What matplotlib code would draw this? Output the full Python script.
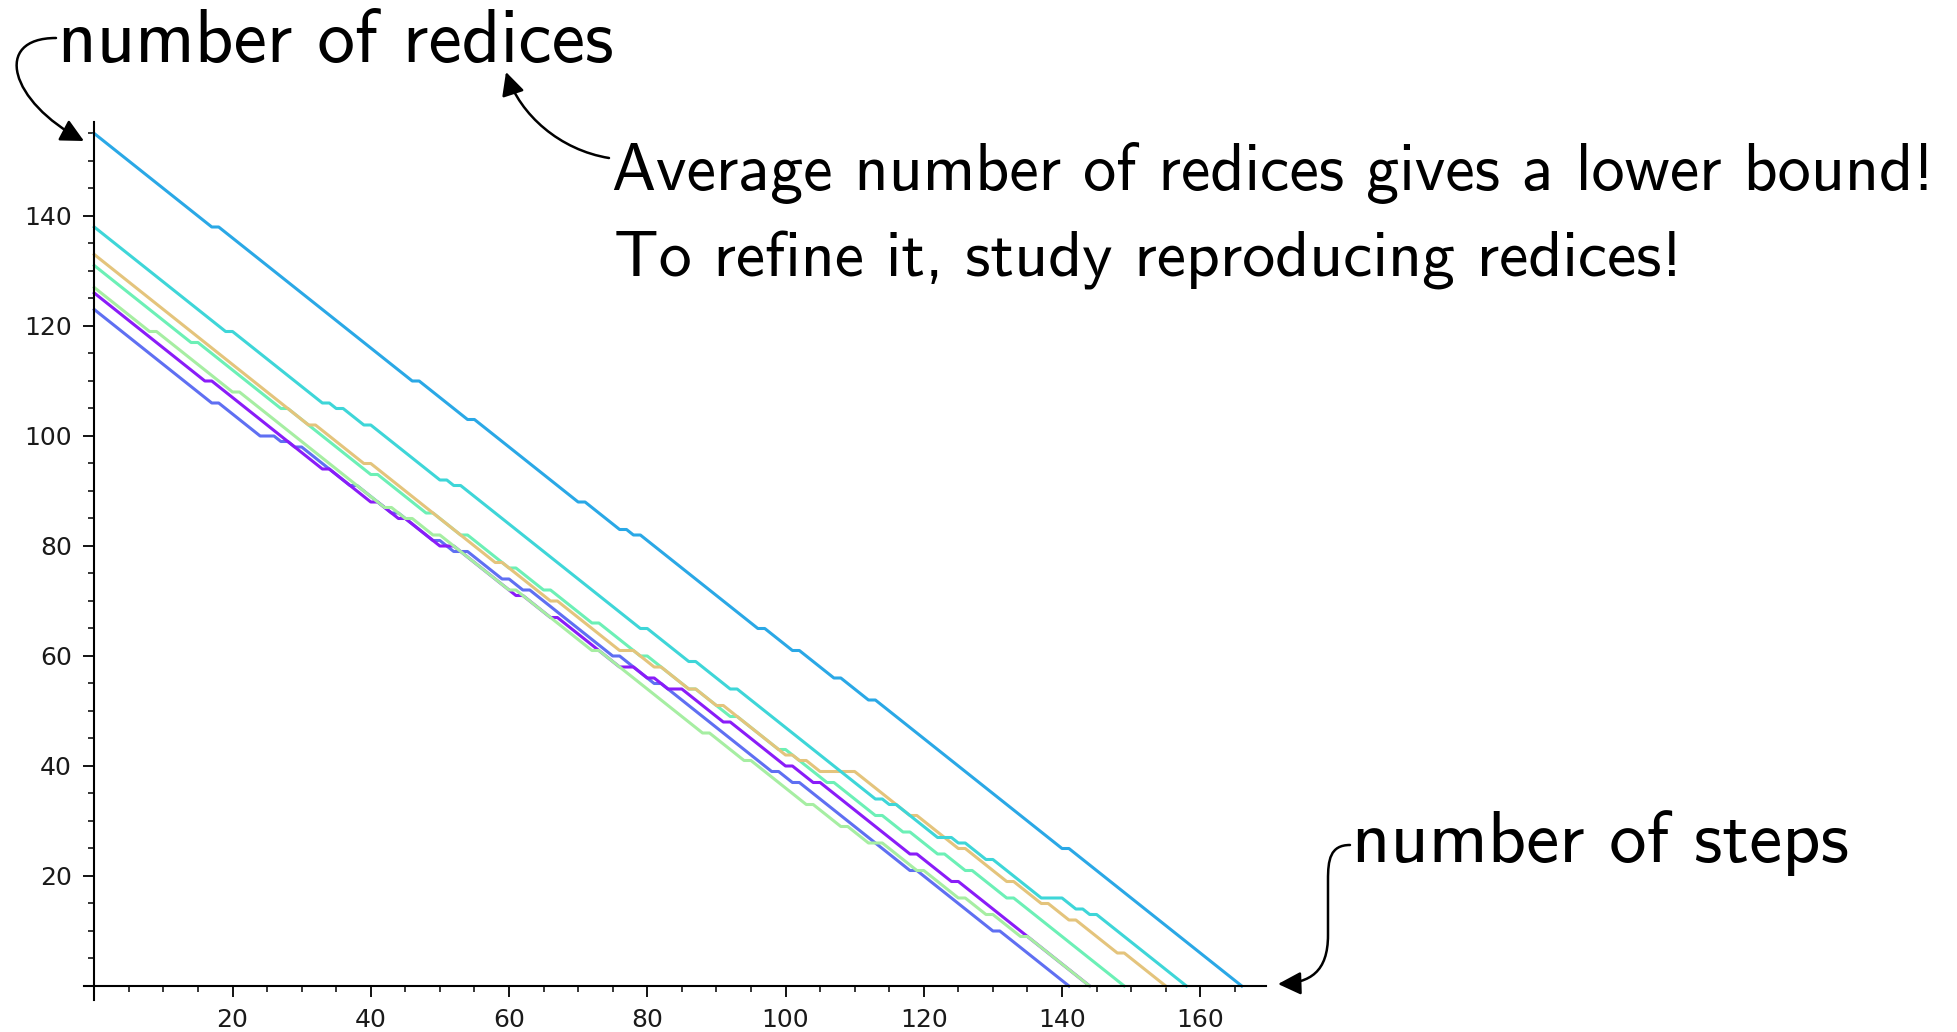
import matplotlib.pyplot as plt
from matplotlib.patches import FancyArrowPatch
from matplotlib.path import Path
from matplotlib.ticker import MultipleLocator

W, H = 1958, 1032

# corner points of each run (number of steps, number of redices)
top_x = [0, 17, 18, 46, 47, 54, 55, 70, 71, 76, 77, 78, 79, 96, 97, 101, 102,
         107, 108, 112, 113, 140, 141, 166]
top_y = [155, 138, 138, 110, 110, 103, 103, 88, 88, 83, 83, 82, 82, 65, 65,
         61, 61, 56, 56, 52, 52, 25, 25, 0]

cyan_x = [0, 19, 20, 33, 34, 35, 36, 39, 40, 50, 51, 52, 53, 79, 80, 86, 87,
          92, 93, 113, 114, 115, 116, 122, 124, 125, 126, 129, 130, 137, 140,
          142, 143, 144, 145, 158]
cyan_y = [138, 119, 119, 106, 106, 105, 105, 102, 102, 92, 92, 91, 91, 65, 65,
          59, 59, 54, 54, 34, 34, 33, 33, 27, 27, 26, 26, 23, 23, 16, 16, 14,
          14, 13, 13, 0]

tan_x = [0, 31, 32, 39, 40, 58, 59, 66, 67, 76, 78, 81, 82, 86, 87, 90, 91,
         100, 101, 102, 103, 105, 110, 118, 119, 125, 126, 132, 133, 137, 138,
         141, 142, 148, 149, 155]
tan_y = [133, 102, 102, 95, 95, 77, 77, 70, 70, 61, 61, 58, 58, 54, 54, 51, 51,
         42, 42, 41, 41, 39, 39, 31, 31, 25, 25, 19, 19, 15, 15, 12, 12, 6, 6, 0]

aqua_x = [0, 14, 15, 27, 28, 40, 41, 48, 49, 53, 54, 60, 61, 65, 66, 72, 73,
          79, 80, 86, 87, 92, 93, 99, 100, 106, 107, 113, 114, 117, 118, 122,
          123, 126, 127, 132, 133, 149]
aqua_y = [131, 117, 117, 105, 105, 93, 93, 86, 86, 82, 82, 76, 76, 72, 72, 66,
          66, 60, 60, 54, 54, 49, 49, 43, 43, 37, 37, 31, 31, 28, 28, 24, 24,
          21, 21, 16, 16, 0]

green_x = [0, 8, 9, 20, 21, 42, 43, 45, 46, 49, 50, 60, 61, 72, 73, 88, 89, 94,
           95, 103, 104, 108, 109, 112, 114, 119, 120, 125, 126, 129, 130, 134,
           135, 144]
green_y = [127, 119, 119, 108, 108, 87, 87, 85, 85, 82, 82, 72, 72, 61, 61, 46,
           46, 41, 41, 33, 33, 29, 29, 26, 26, 21, 21, 16, 16, 13, 13, 9, 9, 0]

purple_x = [0, 16, 17, 33, 34, 40, 41, 44, 45, 50, 52, 61, 62, 66, 67, 76, 78,
            80, 81, 83, 85, 91, 92, 100, 101, 104, 105, 118, 119, 124, 125, 144]
purple_y = [126, 110, 110, 94, 94, 88, 88, 85, 85, 80, 80, 71, 71, 67, 67, 58,
            58, 56, 56, 54, 54, 48, 48, 40, 40, 37, 37, 24, 24, 19, 19, 0]

blue_x = [0, 17, 18, 24, 26, 27, 28, 29, 30, 37, 38, 43, 44, 49, 50, 52, 54,
          59, 60, 62, 63, 75, 76, 81, 82, 98, 99, 101, 102, 118, 119, 130, 131,
          141]
blue_y = [123, 106, 106, 100, 100, 99, 99, 98, 98, 91, 91, 86, 86, 81, 81, 79,
          79, 74, 74, 72, 72, 60, 60, 55, 55, 39, 39, 37, 37, 21, 21, 10, 10, 0]

x_ticks = [20, 40, 60, 80, 100, 120, 140, 160]
y_ticks = [20, 40, 60, 80, 100, 120, 140]


def fig_xy(x, y):
    """pixel position (from top-left) -> figure fraction"""
    return x / W, 1 - y / H


fig = plt.figure(figsize=(W / 100, H / 100), dpi=100)
ax = fig.add_axes([0.04285, 0.03125, 0.6037, 0.85005])

runs = [
    (blue_x, blue_y, "#5f6ff2"),
    (purple_x, purple_y, "#8a1cf8"),
    (green_x, green_y, "#a6eea2"),
    (aqua_x, aqua_y, "#6cf0b6"),
    (tan_x, tan_y, "#e4c47c"),
    (cyan_x, cyan_y, "#3ed6d8"),
    (top_x, top_y, "#2aa8e6"),
]
for xs, ys, col in runs:
    ax.plot(xs, ys, color=col, lw=2.2)

ax.set_xlim(-1.5, 169.5)
ax.set_ylim(-2.5, 157)
ax.spines["left"].set_position(("data", 0))
ax.spines["bottom"].set_position(("data", 0))
ax.spines["top"].set_visible(False)
ax.spines["right"].set_visible(False)
for s in ("left", "bottom"):
    ax.spines[s].set_linewidth(1.5)

ax.set_xticks(x_ticks)
ax.set_yticks(y_ticks)
ax.xaxis.set_minor_locator(MultipleLocator(5))
ax.yaxis.set_minor_locator(MultipleLocator(5))
ax.tick_params(which="major", length=8, width=1.3, labelsize=18, pad=8,
               labelcolor="#1a1a1a")
ax.tick_params(which="minor", length=4.5, width=1.1)

# slide annotations
txt = dict(fontfamily="cmss10", va="baseline", color="black")
fig.text(*fig_xy(58, 62), "number of redices", fontsize=54, **txt)
fig.text(*fig_xy(612, 190), "Average number of redices gives a lower bound!",
         fontsize=47.6, **txt)
fig.text(*fig_xy(614, 276), "To refine it, study reproducing redices!",
         fontsize=47.4, **txt)
fig.text(*fig_xy(1352, 862), "number of steps", fontsize=53.5, **txt)

C4 = Path.CURVE4
arrows = [
    ([(56, 38), (-8, 38), (10, 102), (84, 141)],
     [Path.MOVETO, C4, C4, C4]),
    ([(609, 158), (560, 150), (520, 115), (506, 72)],
     [Path.MOVETO, C4, C4, C4]),
    ([(1350, 845), (1330, 845), (1328, 860), (1328, 880), (1328, 935),
      (1328, 972), (1310, 983), (1278, 984)],
     [Path.MOVETO, C4, C4, C4, Path.LINETO, C4, C4, C4]),
]
for pts, codes in arrows:
    verts = [fig_xy(x, y) for x, y in pts]
    arr = FancyArrowPatch(path=Path(verts, codes),
                          arrowstyle="-|>,head_length=0.7,head_width=0.35",
                          mutation_scale=20, lw=1.8, color="black",
                          transform=fig.transFigure)
    fig.add_artist(arr)

fig.savefig("out.png", dpi=100)
